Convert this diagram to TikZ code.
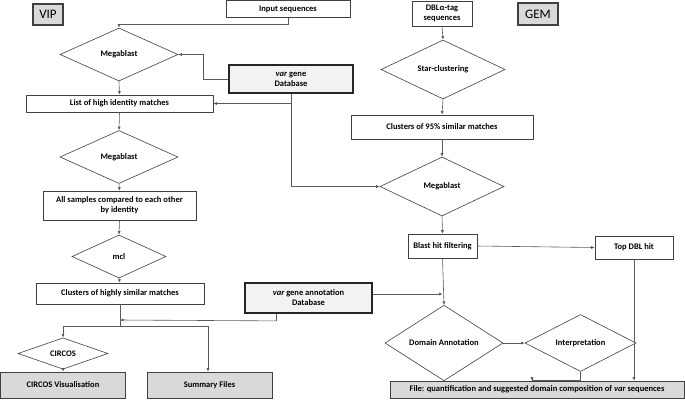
\documentclass[tikz,border=0pt]{standalone}
\usepackage{fontspec}
\setmainfont{Carlito}
\usetikzlibrary{shapes.geometric,arrows.meta}
\definecolor{linegray}{HTML}{5A5A5A}
\definecolor{edgegray}{HTML}{404040}
\definecolor{dbfill}{HTML}{F2F2F2}
\definecolor{outfill}{HTML}{D9D9D9}
\tikzset{
  every node/.style={font=\bfseries\fontsize{8.5}{10}\selectfont, align=center, inner sep=1pt},
  procbox/.style={draw=edgegray, fill=white, rectangle, line width=0.6pt},
  dbbox/.style={draw=black!85, fill=dbfill, rectangle, line width=1.8pt},
  outbox/.style={draw=edgegray, fill=outfill, rectangle, line width=0.6pt},
  tagbox/.style={draw=edgegray, fill=outfill, rectangle, line width=1.2pt, font=\fontsize{13}{15}\selectfont},
  decision/.style={draw=edgegray, fill=white, diamond, line width=0.6pt, inner sep=0pt},
  conn/.style={draw=linegray, line width=0.6pt},
  flow/.style={conn, -{Latex[length=3.5pt,width=3pt]}}
}
\begin{document}
\begin{tikzpicture}[x=1pt,y=-1pt]
    \useasboundingbox (0,0) rectangle (685,400);

    \node[tagbox, minimum width=30pt, minimum height=21pt] (vip) at (48,14.5) {VIP}; %vip
    \node[tagbox, minimum width=40pt, minimum height=22pt] (gem) at (538,14) {GEM}; %gem

    % VIP side
    \node[procbox, minimum width=124pt, minimum height=17pt] (input) at (288,9) {Input sequences};
    \node[decision, minimum width=118pt, minimum height=53pt] (mega1) at (119,54.5) {Megablast};
    \node[dbbox, minimum width=124pt, minimum height=28pt] (vardb) at (291,79) {\textit{var} gene\\Database};
    \node[procbox, minimum width=187pt, minimum height=17pt] (list) at (119.5,103.5) {List of high identity matches};
    \node[decision, minimum width=118pt, minimum height=53pt] (mega2) at (119,157) {Megablast};
    \node[procbox, minimum width=153pt, minimum height=29pt] (allsamp) at (119.5,205.5) {All samples compared to each other\\by identity};
    \node[decision, minimum width=94pt, minimum height=43pt] (mcl) at (119,256.5) {mcl};
    \node[procbox, minimum width=168pt, minimum height=21pt] (clust) at (120,293.5) {Clusters of highly similar matches};
    \node[decision, minimum width=90pt, minimum height=27pt] (circos) at (63,353.5) {CIRCOS};
    \node[outbox, minimum width=125pt, minimum height=26pt] (circvis) at (63,385) {CIRCOS Visualisation};
    \node[outbox, minimum width=125pt, minimum height=26pt] (summary) at (209.5,385) {Summary Files};
    \node[dbbox, minimum width=127pt, minimum height=30pt] (annot) at (308.5,298) {\textit{var} gene annotation\\Database};

    % GEM side
    \node[procbox, minimum width=60pt, minimum height=25pt] (dbl) at (442,13.5) {DBLα-tag\\sequences};
    \node[decision, minimum width=124pt, minimum height=59pt] (star) at (443,69.5) {Star-clustering};
    \node[procbox, minimum width=182pt, minimum height=24pt] (clu95) at (442,127) {Clusters of 95\% similar matches};
    \node[decision, minimum width=124pt, minimum height=59pt] (mega3) at (442,186.5) {Megablast};
    \node[procbox, minimum width=69pt, minimum height=24pt] (blast) at (442.5,246) {Blast hit filtering};
    \node[procbox, minimum width=78pt, minimum height=23pt] (topdbl) at (634,247.5) {Top DBL hit};
    \node[decision, minimum width=118pt, minimum height=60pt] (domain) at (444,343) {Domain Annotation};
    \node[decision, minimum width=111pt, minimum height=48pt] (interp) at (580.5,343) {Interpretation};
    \node[outbox, minimum width=294pt, minimum height=17pt] (file) at (537,389.5) {File: quantification and suggested domain composition of \textit{var} sequences};

    \coordinate (join) at (120,320);
    \coordinate (split) at (120,326);

    % connectors VIP
    \draw[flow] (input.south) -- ++(0,6) -| (mega1.north);
    \draw[flow] (vardb.west) -- ++(-25,0) |- (mega1.east);
    \draw[flow] (vardb.south) |- (list.east);
    \draw[flow] (vardb.south) |- (mega3.west);
    \draw[flow] (mega1.south) -- (list.north);
    \draw[flow] (list.south) -- (mega2.north);
    \draw[flow] (mega2.south) -- (allsamp.north);
    \draw[flow] (allsamp.south) -- (mcl.north);
    \draw[flow] (mcl.south) -- (clust.north);
    \draw[conn] (clust.south) -- (split);
    \draw[flow] ([xshift=-32pt]annot.south) -- ++(0,7) -- (join);
    \draw[flow] (split) -| (circos.north);
    \draw[flow] (split) -| ([xshift=-1.5pt]summary.north);
    \draw[flow] (circos.south) -- (circvis.north);

    % connectors GEM
    \draw[flow] (dbl.south) -- (star.north);
    \draw[flow] (star.south) -- (clu95.north);
    \draw[flow] (clu95.south) -- (mega3.north);
    \draw[flow] (mega3.south) -- (blast.north);
    \draw[flow] (blast.east) -- (topdbl.west);
    \draw[flow] (blast.south) -- (domain.north);
    \draw[flow] ([yshift=4pt]annot.east) -- ([yshift=4pt]annot.east -| blast.south);
    \draw[flow] (domain.east) -- (interp.west);
    \draw[flow] (interp.south) -- ++(0,8) -| ([xshift=-5pt]file.north);
    \draw[flow] (topdbl.south) -- (topdbl.south |- file.north);
\end{tikzpicture}
\end{document}
